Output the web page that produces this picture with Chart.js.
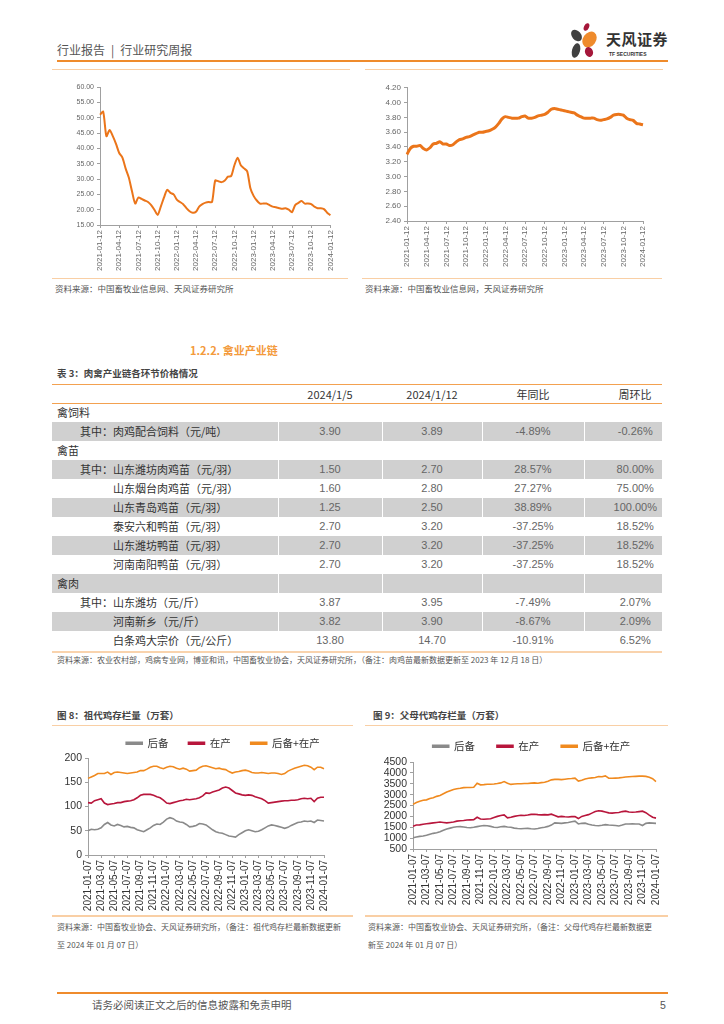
<!DOCTYPE html>
<html lang="zh-CN">
<head>
<meta charset="utf-8">
<title>行业研究周报 - 禽业产业链</title>
<script src="https://cdn.jsdelivr.net/npm/chart.js@4.4.1/dist/chart.umd.min.js"></script>
<style>
  body { margin: 0; width: 724px; height: 1024px; position: relative; background: #fff; overflow: hidden;
         font-family: "Noto Sans CJK SC", "Liberation Sans", sans-serif; color: #333; }
  .abs { position: absolute; }
  .line { position: absolute; height: 1px; background: #f9cfa5; }
  .src { position: absolute; font-size: 8px; color: #555; white-space: nowrap; line-height: 1; }
  .figtitle { position: absolute; font-size: 9.5px; font-weight: bold; color: #444; white-space: nowrap; line-height: 1; }
  .box { position: absolute; }
  .petal { position: absolute; border-radius: 50%; }
  table { border-collapse: collapse; table-layout: fixed; }
  td { height: 19px; padding: 0; font-size: 11px; line-height: 19px; white-space: nowrap; }
  td.num { text-align: center; color: #666; font-family: "Liberation Sans Narrow", "Liberation Sans", sans-serif; font-size: 11px; border-left: 1px solid #fff; }
  td.last, th.last { padding-left: 24px; }
  tr.shade td { background: #d0d0d0; }
  th { height: 18px; font-size: 11px; font-weight: normal; color: #333; text-align: center; padding: 0; }
</style>
</head>
<body>

<!-- page header -->
<div class="abs" style="left:57px;top:44px;font-size:12px;color:#555;line-height:1;">行业报告<span style="margin:0 6px;">|</span>行业研究周报</div>
<div class="abs" style="left:57px;top:60px;width:611px;height:2px;background:#ef8b2c;"></div>
<div class="abs" style="left:560px;top:20px;width:115px;height:40px;background:#fff;">
  <span class="petal" style="left:12px;top:9px;width:9px;height:13px;background:#404040;transform:rotate(-40deg);"></span>
  <span class="petal" style="left:24px;top:3px;width:5px;height:8px;background:#a5173a;transform:rotate(25deg);"></span>
  <span class="petal" style="left:23px;top:11px;width:13px;height:17px;background:#ef8b2c;transform:rotate(35deg);"></span>
  <span class="petal" style="left:12px;top:23px;width:8px;height:15px;background:#404040;transform:rotate(15deg);"></span>
  <span class="petal" style="left:25px;top:27px;width:8px;height:10px;background:#a5173a;transform:rotate(-20deg);"></span>
  <span class="abs" style="left:46px;top:11px;font-size:15px;font-weight:bold;color:#333;line-height:1;letter-spacing:0.5px;">天风证券</span>
  <span class="abs" style="left:49px;top:32px;font-size:5px;font-weight:bold;color:#333;line-height:1;font-family:'Liberation Sans';">TF SECURITIES</span>
</div>

<!-- top charts -->
<div class="line" style="left:52px;top:69px;width:298px;"></div>
<div class="line" style="left:365px;top:69px;width:298px;"></div>
<div class="box" style="left:52px;top:80px;width:290px;height:198px;"><canvas id="priceLeft"></canvas></div>
<div class="box" style="left:362px;top:80px;width:295px;height:198px;"><canvas id="priceRight"></canvas></div>
<div class="line" style="left:52px;top:278px;width:296px;"></div>
<div class="line" style="left:362px;top:278px;width:300px;"></div>
<div class="src" style="left:55px;top:284px;font-size:8.5px;">资料来源：中国畜牧业信息网、天风证券研究所</div>
<div class="src" style="left:365px;top:284px;font-size:8.5px;">资料来源：中国畜牧业信息网，天风证券研究所</div>

<!-- table -->
<div class="abs" style="left:190px;top:345px;font-size:11px;font-weight:bold;color:#f39a3b;line-height:1;">1.2.2. 禽业产业链</div>
<div class="figtitle" style="left:57px;top:369px;">表 3：肉禽产业链各环节价格情况</div>
<div class="abs" style="left:52px;top:384px;width:610px;height:1px;background:#f3a150;"></div>
<table id="priceTable" class="abs" style="left:52px;top:385px;width:610px;">
  <colgroup><col style="width:226px"><col style="width:104px"><col style="width:100px"><col style="width:102px"><col style="width:78px"></colgroup>
  <thead><tr><th></th><th>2024/1/5</th><th>2024/1/12</th><th>年同比</th><th class="last">周环比</th></tr></thead>
  <tbody></tbody>
</table>
<div class="abs" style="left:52px;top:403px;width:610px;height:1px;background:#f3a150;"></div>
<div class="abs" style="left:52px;top:651px;width:610px;height:2px;background:#f9d3ad;"></div>
<div class="src" style="left:57px;top:656px;">资料来源：农业农村部，鸡病专业网，博亚和讯，中国畜牧业协会，天风证券研究所，（备注：肉鸡苗最新数据更新至 2023 年 12 月 18 日）</div>

<!-- bottom charts -->
<div class="figtitle" style="left:57px;top:711px;">图 8：祖代鸡存栏量（万套）</div>
<div class="figtitle" style="left:373px;top:711px;">图 9：父母代鸡存栏量（万套）</div>
<div class="line" style="left:52px;top:725px;width:301px;"></div>
<div class="line" style="left:365px;top:725px;width:303px;"></div>
<div class="box" style="left:52px;top:718px;width:300px;height:196px;"><canvas id="gpStock"></canvas></div>
<div class="box" style="left:365px;top:719px;width:305px;height:195px;"><canvas id="ppStock"></canvas></div>
<div class="line" style="left:52px;top:915px;width:301px;height:2px;"></div>
<div class="line" style="left:365px;top:915px;width:303px;height:2px;"></div>
<div class="src" style="left:57px;top:923px;">资料来源：中国畜牧业协会、天风证券研究所，（备注：祖代鸡存栏最新数据更新</div>
<div class="src" style="left:57px;top:941px;">至 2024 年 01 月 07 日）</div>
<div class="src" style="left:368px;top:923px;">资料来源：中国畜牧业协会、天风证券研究所，（备注：父母代鸡存栏最新数据更</div>
<div class="src" style="left:368px;top:941px;">新至 2024 年 01 月 07 日）</div>

<!-- footer -->
<div class="abs" style="left:57px;top:992px;width:611px;height:2px;background:#ef8b2c;"></div>
<div class="abs" style="left:92px;top:1000px;font-size:10.5px;color:#555;line-height:1;">请务必阅读正文之后的信息披露和免责申明</div>
<div class="abs" style="left:660px;top:1000px;font-size:10.5px;color:#555;line-height:1;font-family:'Liberation Sans';">5</div>

<script>
// tick labels
const topDates = ['2021-01-12', '2021-04-12', '2021-07-12', '2021-10-12', '2022-01-12', '2022-04-12', '2022-07-12',
    '2022-10-12', '2023-01-12', '2023-04-12', '2023-07-12', '2023-10-12', '2024-01-12'];
const bottomDates = ['2021-01-07', '2021-03-07', '2021-05-07', '2021-07-07', '2021-09-07', '2021-11-07', '2022-01-07',
    '2022-03-07', '2022-05-07', '2022-07-07', '2022-09-07', '2022-11-07', '2023-01-07', '2023-03-07', '2023-05-07',
    '2023-07-07', '2023-09-07', '2023-11-07', '2024-01-07'];

// half-monthly readings, 2021-01 .. 2024-01
const priceLeft = [51, 52, 44, 46, 44, 41.5, 38.5, 37, 33.5, 30.5, 26, 22, 24, 23.5, 23, 22.5, 21.5, 20, 18.3,
    21, 24, 26.5, 25.5, 25, 23.3, 22.5, 21.8, 20.5, 19.5, 19, 19.3, 21, 21.8, 22.3, 22.5, 22.5, 29.5, 29.3, 29,
    29.5, 30.8, 31, 34.5, 37, 34.5, 33.5, 32.5, 27, 24.5, 23, 22, 22, 22, 21.5, 21, 20.8, 20.5, 20.3, 20.5, 20,
    19.2, 21.5, 22.2, 22.8, 22, 22, 21.8, 21, 20.5, 20.5, 20.2, 19, 18.2];
const priceRight = [3.30, 3.38, 3.41, 3.41, 3.42, 3.38, 3.36, 3.39, 3.44, 3.45, 3.47, 3.44, 3.44, 3.42, 3.43,
    3.47, 3.50, 3.51, 3.53, 3.54, 3.56, 3.58, 3.60, 3.60, 3.61, 3.62, 3.64, 3.67, 3.72, 3.78, 3.81, 3.80, 3.79,
    3.79, 3.79, 3.81, 3.82, 3.79, 3.79, 3.80, 3.82, 3.83, 3.84, 3.87, 3.91, 3.92, 3.91, 3.90, 3.89, 3.88, 3.87,
    3.86, 3.83, 3.81, 3.79, 3.79, 3.79, 3.79, 3.77, 3.76, 3.77, 3.78, 3.80, 3.83, 3.84, 3.84, 3.83, 3.79, 3.77,
    3.76, 3.72, 3.71, 3.70];

// 祖代鸡 (万套)
const gpReserve = [50, 53, 52, 53, 56, 63, 67, 62, 60, 63, 61, 58, 59, 57, 56, 52, 50, 48, 52, 56, 61, 64, 63,
    68, 74, 77, 75, 70, 68, 67, 63, 58, 59, 61, 65, 64, 62, 57, 52, 48, 46, 45, 42, 39, 38, 37, 42, 46, 50, 52,
    50, 48, 49, 52, 56, 60, 62, 61, 59, 57, 55, 57, 61, 64, 67, 68, 70, 69, 70, 67, 72, 71, 70];
const gpLaying = [108, 107, 112, 114, 116, 107, 104, 105, 106, 108, 108, 110, 111, 112, 114, 118, 123, 125, 125,
    125, 123, 120, 118, 113, 107, 106, 108, 110, 112, 113, 115, 114, 115, 116, 118, 122, 128, 127, 130, 132, 134,
    138, 140, 138, 133, 128, 126, 124, 123, 124, 123, 120, 118, 116, 112, 107, 108, 109, 110, 111, 112, 112, 113,
    113, 114, 116, 117, 116, 117, 110, 117, 119, 119];
const gpTotal = [158, 161, 164, 168, 168, 168, 171, 166, 170, 171, 170, 169, 168, 169, 170, 171, 174, 174, 177,
    181, 183, 183, 180, 178, 181, 183, 182, 179, 177, 179, 177, 173, 174, 175, 180, 183, 184, 182, 180, 178, 179,
    177, 176, 172, 169, 171, 172, 174, 175, 173, 170, 169, 169, 170, 169, 168, 169, 169, 168, 166, 168, 173, 176,
    179, 181, 183, 185, 184, 181, 176, 181, 181, 178];

// 父母代鸡 (万套)
const ppReserve = [1020, 1050, 1080, 1100, 1130, 1180, 1220, 1250, 1290, 1360, 1420, 1460, 1500, 1520, 1530, 1510,
    1490, 1480, 1500, 1530, 1560, 1580, 1570, 1540, 1500, 1490, 1520, 1540, 1510, 1500, 1460, 1440, 1430, 1440,
    1450, 1430, 1420, 1440, 1480, 1500, 1540, 1600, 1700, 1690, 1680, 1700, 1720, 1750, 1780, 1650, 1680, 1690,
    1640, 1600, 1580, 1570, 1590, 1620, 1600, 1590, 1580, 1560, 1600, 1650, 1650, 1660, 1650, 1650, 1580, 1680,
    1700, 1690, 1680];
const ppLaying = [1550, 1600, 1610, 1640, 1660, 1680, 1700, 1720, 1740, 1720, 1700, 1720, 1740, 1780, 1800, 1810,
    1830, 1840, 1850, 1960, 1880, 1870, 1880, 1890, 1950, 2000, 2040, 2070, 1930, 1960, 2000, 2030, 2050, 2040,
    2060, 2090, 2100, 2080, 2070, 2080, 2070, 2100, 2040, 1980, 2000, 1980, 1970, 1990, 1990, 1900, 2000, 2040,
    2080, 2150, 2220, 2260, 2240, 2200, 2160, 2150, 2170, 2180, 2220, 2240, 2200, 2190, 2200, 2220, 2240, 2170,
    2060, 1960, 1920];
const ppTotal = [2550, 2640, 2700, 2740, 2760, 2820, 2860, 2920, 2960, 3040, 3120, 3180, 3240, 3270, 3290, 3320,
    3330, 3330, 3340, 3520, 3450, 3460, 3480, 3480, 3490, 3510, 3540, 3600, 3520, 3470, 3490, 3500, 3500, 3510,
    3510, 3530, 3540, 3520, 3550, 3570, 3620, 3680, 3700, 3700, 3690, 3710, 3730, 3740, 3760, 3620, 3660, 3720,
    3750, 3770, 3790, 3830, 3820, 3860, 3760, 3750, 3760, 3770, 3790, 3810, 3820, 3830, 3840, 3850, 3850, 3840,
    3800, 3730, 3600];

// 表 3
const rowNames = ['禽饲料', '其中：肉鸡配合饲料（元/吨）', '禽苗', '其中：山东潍坊肉鸡苗（元/羽）', '山东烟台肉鸡苗（元/羽）',
    '山东青岛鸡苗（元/羽）', '泰安六和鸭苗（元/羽）', '山东潍坊鸭苗（元/羽）', '河南南阳鸭苗（元/羽）', '禽肉',
    '其中：山东潍坊（元/斤）', '河南新乡（元/斤）', '白条鸡大宗价（元/公斤）'];
const priceJan5 = [null, '3.90', null, '1.50', '1.60', '1.25', '2.70', '2.70', '2.70', null, '3.87', '3.82', '13.80'];
const priceJan12 = [null, '3.89', null, '2.70', '2.80', '2.50', '3.20', '3.20', '3.20', null, '3.95', '3.90', '14.70'];
const yoyChange = [null, '-4.89%', null, '28.57%', '27.27%', '38.89%', '-37.25%', '-37.25%', '-37.25%', null, '-7.49%', '-8.67%', '-10.91%'];
const wowChange = [null, '-0.26%', null, '80.00%', '75.00%', '100.00%', '18.52%', '18.52%', '18.52%', null, '2.07%', '2.09%', '6.52%'];

function buildTable() {
    const body = document.querySelector('#priceTable tbody');
    body.innerHTML = rowNames.map((name, i) => {
        const section = priceJan5[i] === null;
        const pad = section ? 5 : (name.startsWith('其中') ? 28 : 61);
        const cells = [priceJan5[i], priceJan12[i], yoyChange[i], wowChange[i]]
            .map((v, j) => `<td class="num${j === 3 ? ' last' : ''}">${v || ''}</td>`).join('');
        return `<tr class="${i % 2 ? 'shade' : ''}"><td style="padding-left:${pad}px">${name}</td>${cells}</tr>`;
    }).join('');
}

const axisGray = '#a0a0a0';

function xAxis(dates, step, fontSize, color, height) {
    return {
        type: 'category',
        offset: false,
        grid: { display: true, drawOnChartArea: false, drawTicks: true, tickLength: 3, color: axisGray },
        border: { display: true, color: axisGray },
        ticks: {
            autoSkip: false, minRotation: 90, maxRotation: 90, padding: 2,
            font: { family: 'Liberation Sans', size: fontSize }, color: color,
            callback: (v, i) => i % step === 0 ? dates[i / step] : null
        },
        afterFit: s => { s.height = height; }
    };
}

function yAxis(min, max, step, digits, fontSize, color, width) {
    return {
        min: min, max: max,
        grid: { display: true, drawOnChartArea: false, drawTicks: true, tickLength: 3, color: axisGray },
        border: { display: true, color: axisGray },
        ticks: {
            stepSize: step, padding: 3, color: color, autoSkip: false,
            font: { family: 'Liberation Sans', size: fontSize },
            callback: v => v.toFixed(digits)
        },
        afterFit: s => { s.width = width; }
    };
}

function priceChart(id, values, width, x, y, padding) {
    return new Chart(document.getElementById(id), {
        type: 'line',
        data: {
            labels: values.map((_, i) => i),
            datasets: [{ data: values, borderColor: '#eb751a', borderWidth: width, pointRadius: 0, tension: 0.25 }]
        },
        options: {
            responsive: true, maintainAspectRatio: false, animation: false,
            layout: { padding: padding },
            plugins: { legend: { display: false }, tooltip: { enabled: false } },
            scales: { x: x, y: y }
        }
    });
}

// legend keeps wide item spacing but only takes legend.height px above the plot,
// and is nudged right by legend.shift px
function stockChart(id, reserve, laying, total, x, y, padding, legend) {
    const series = [
        { label: '后备', data: reserve, color: '#8a8a8a' },
        { label: '在产', data: laying, color: '#b8163c' },
        { label: '后备+在产', data: total, color: '#f08a1f' }
    ];
    return new Chart(document.getElementById(id), {
        type: 'line',
        data: {
            labels: reserve.map((_, i) => i),
            datasets: series.map(s => ({
                label: s.label, data: s.data, borderColor: s.color, backgroundColor: s.color,
                borderWidth: 1.6, pointRadius: 0, tension: 0
            }))
        },
        options: {
            responsive: true, maintainAspectRatio: false, animation: false,
            layout: { padding: padding },
            plugins: {
                legend: {
                    position: 'top',
                    labels: {
                        boxWidth: 16, boxHeight: 2, padding: legend.gap, color: '#333',
                        font: { family: 'Noto Sans CJK SC', size: 10.5 }
                    }
                },
                tooltip: { enabled: false }
            },
            scales: { x: x, y: y }
        },
        plugins: [{
            id: 'legendPlace',
            beforeInit(chart) {
                const fit = chart.legend.fit;
                chart.legend.fit = function () {
                    fit.call(this);
                    this.height = legend.height;
                };
            },
            afterLayout(chart) {
                chart.legend.left += legend.shift;
                chart.legend.right += legend.shift;
            }
        }]
    });
}

document.addEventListener('DOMContentLoaded', () => {
    buildTable();

    priceChart('priceLeft', priceLeft, 2,
        xAxis(topDates, 6, 8, '#666', 53),
        yAxis(15, 60, 5, 2, 7, '#666', 48),
        { top: 7, right: 9 });

    priceChart('priceRight', priceRight, 3,
        xAxis(topDates, 6, 8, '#666', 57),
        yAxis(2.4, 4.2, 0.2, 2, 8, '#666', 45),
        { top: 7, right: 14 });

    stockChart('gpStock', gpReserve, gpLaying, gpTotal,
        xAxis(bottomDates, 4, 10, '#333', 59),
        yAxis(0, 200, 50, 0, 10.5, '#333', 36),
        { top: 0, right: 28 }, { gap: 20, height: 40, shift: 35 });

    stockChart('ppStock', ppReserve, ppLaying, ppTotal,
        xAxis(bottomDates, 4, 10, '#333', 65),
        yAxis(500, 4500, 500, 0, 10.5, '#333', 48),
        { top: 0, right: 4 }, { gap: 22, height: 43, shift: 16 });
});
</script>
</body>
</html>
